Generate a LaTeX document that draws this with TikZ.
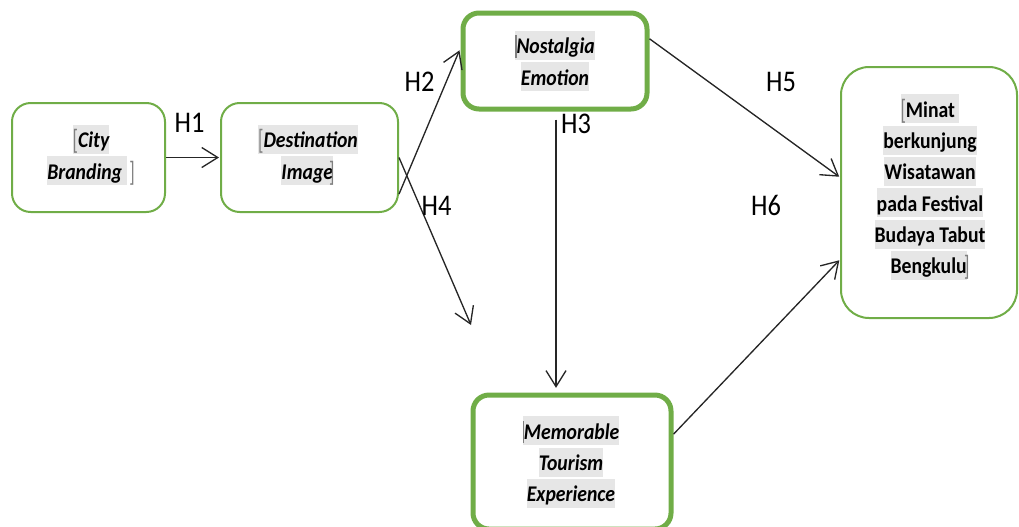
\documentclass[tikz,border=0pt]{standalone}
\usepackage{graphicx}
\usepackage{fontspec}
\setmainfont[FakeStretch=0.88]{Carlito}
\usetikzlibrary{arrows.meta,calc}
\definecolor{boxgreen}{HTML}{70AD47}
\definecolor{hlgray}{HTML}{E6E6E6}
\definecolor{brkgray}{HTML}{7F7F7F}
\newcommand{\hlt}[1]{{\setlength{\fboxsep}{0pt}\colorbox{hlgray}{\rule[-4.5pt]{0pt}{21.75pt}#1}}}
\newcommand{\lbrk}{{\color{brkgray}\upshape\mdseries\raisebox{-1.5pt}{\scalebox{0.9}[1.25]{[}}}}
\newcommand{\rbrk}{{\color{brkgray}\upshape\mdseries\raisebox{-1.5pt}{\scalebox{0.9}[1.25]{]}}}}
\newcommand{\vbar}{{\color{brkgray}\rule[-3pt]{1pt}{17pt}}}
\begin{document}
\begin{tikzpicture}[x=0.75pt,y=-0.75pt,
  box/.style={draw=boxgreen,line width=1.5pt,rounded corners=14pt,inner sep=0pt},
  thickbox/.style={box,line width=3.75pt,rounded corners=12pt},
  txt/.style={inner sep=0pt,align=center,font=\fontsize{16.8pt}{23.5pt}\selectfont\bfseries\itshape},
  txtup/.style={txt,font=\fontsize{16.8pt}{23.5pt}\selectfont\bfseries},
  hyp/.style={inner sep=0pt,font=\fontsize{22.5pt}{26pt}\selectfont},
  conn/.style={draw=black!85,line width=1pt,-{Straight Barb[length=12pt,width=15pt]}}
]
\useasboundingbox (0,0) rectangle (1019,526);
\clip (0,0) rectangle (1019,526);

% boxes
\node[box, minimum width=114.75pt, minimum height=81.75pt] (city) at (88.5,157.5) {};
\node[box, minimum width=132.75pt, minimum height=81.75pt] (dest) at (309.5,157.5) {};
\node[thickbox, minimum width=138pt, minimum height=72pt] (nost) at (555,61) {};
\node[thickbox, minimum width=148.5pt, minimum height=100.5pt] (mem) at (572,462) {};
\node[box, rounded corners=21pt, minimum width=132pt, minimum height=188.25pt] (minat) at (929,192.5) {};

% texts
\node[txt] (cityT) at (91,155) {\hlt{\lbrk City}\\\hlt{Branding\ }\kern2pt\rbrk};
\node[txt] (destT) at (308,155) {\hlt{\lbrk Destination}\\\hlt{Image}\kern-3pt\rbrk};
\node[txt] (nostT) at (555,61) {\hlt{\vbar Nostalgia}\\\hlt{Emotion}};
\node[txt] (memT) at (571,462) {\hlt{\vbar Memorable}\\\hlt{Tourism}\\\hlt{Experience}};
\node[txtup] (minatT) at (930,187) {\hlt{\lbrk Minat\ }\\\hlt{berkunjung}\\\hlt{Wisatawan}\\\hlt{pada Festival}\\\hlt{Budaya Tabut}\\\hlt{Bengkulu}\kern-2pt\rbrk};

% connectors
\coordinate (h4end) at (471,325);
\draw[conn, shorten >=0.75pt] (city.east) -- (dest.west);
\draw[conn, shorten >=2pt] ($(dest.north east)!0.83!(dest.south east)$) -- ($(nost.north west)!0.37!(nost.south west)$);
\draw[conn] (dest.east) -- (h4end);
\draw[conn, shorten <=6pt, shorten >=3.5pt] (nost.south -| 556,0) -- (mem.north -| 556,0);
\draw[conn, shorten >=0.75pt] ($(nost.north east)!0.28!(nost.south east)$) -- ($(minat.north west)!0.44!(minat.south west)$);
\draw[conn, shorten >=0.75pt] ($(mem.north east)!0.3!(mem.south east)$) -- ($(minat.north west)!0.765!(minat.south west)$);

% hypothesis labels
\node[hyp] (h1) at (189.5,123) {H1};
\node[hyp] (h2) at (419.5,82) {H2};
\node[hyp] (h3) at (576,124) {H3};
\node[hyp] (h4) at (436.5,206) {H4};
\node[hyp] (h5) at (781,82) {H5};
\node[hyp] (h6) at (766,205) {H6};
\end{tikzpicture}
\end{document}
